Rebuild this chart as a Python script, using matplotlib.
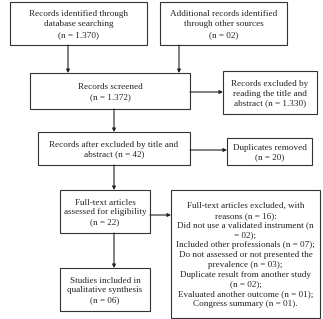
import matplotlib.pyplot as plt
from matplotlib.patches import Rectangle

plt.rcParams['font.family'] = ['Liberation Serif', 'DejaVu Serif']

W, H = 323, 319

# box texts of the flow diagram
texts = [
    "Records identified through\ndatabase searching\n(n = 1.370)",
    "Additional records identified\nthrough other sources\n(n = 02)",
    "Records screened\n(n = 1.372)",
    "Records excluded by\nreading the title and\nabstract (n = 1.330)",
    "Records after excluded by title and\nabstract (n = 42)",
    "Duplicates removed\n(n = 20)",
    "Full-text articles\nassessed for eligibility\n(n = 22)",
    "Full-text articles excluded, with\nreasons (n = 16):\nDid not use a validated instrument (n\n= 02);\n"
    "Included other professionals (n = 07);\nDo not assessed or not presented the\nprevalence (n = 03);\n"
    "Duplicate result from another study\n(n = 02);\nEvaluated another outcome (n = 01);\nCongress summary (n = 01).",
    "Studies included in\nqualitative synthesis\n(n = 06)",
]

# box geometry in pixels: x0, y0, x1, y1
boxes = [
    (10, 2, 147, 45),
    (160, 2, 287, 45),
    (30, 73, 190, 109),
    (223, 71, 317, 114),
    (38, 132, 190, 165),
    (227, 138, 312, 165),
    (60, 190, 150, 233),
    (171, 190, 320, 318),
    (60, 268, 150, 311),
]
spacing = [1.5, 1.5, 1.35, 1.28, 1.3, 1.3, 1.25, 1.3, 1.25]

fig = plt.figure(figsize=(W / 100, H / 100), dpi=100)
ax = fig.add_axes([0, 0, 1, 1])
ax.set_xlim(0, W)
ax.set_ylim(H, 0)
ax.axis('off')

for (x0, y0, x1, y1), t, ls in zip(boxes, texts, spacing):
    ax.add_patch(Rectangle((x0, y0), x1 - x0, y1 - y0, fill=False,
                           edgecolor='#333333', linewidth=0.8))
    ax.text((x0 + x1) / 2, (y0 + y1) / 2 + 1, t, ha='center', va='center',
            multialignment='center', fontsize=6.6, linespacing=ls, color='#222222')

arrows = [
    ((68, 45), (68, 73)),
    ((179, 45), (179, 73)),
    ((190, 92), (223, 92)),
    ((114, 109), (114, 132)),
    ((190, 150), (227, 150)),
    ((114, 165), (114, 190)),
    ((150, 215), (171, 215)),
    ((114, 233), (114, 268)),
]
for (xa, ya), (xb, yb) in arrows:
    ax.annotate('', xy=(xb, yb), xytext=(xa, ya),
                arrowprops=dict(arrowstyle='-|>', color='#222222', lw=0.8,
                                mutation_scale=5, shrinkA=0, shrinkB=0))

fig.savefig('out.png', dpi=100)
